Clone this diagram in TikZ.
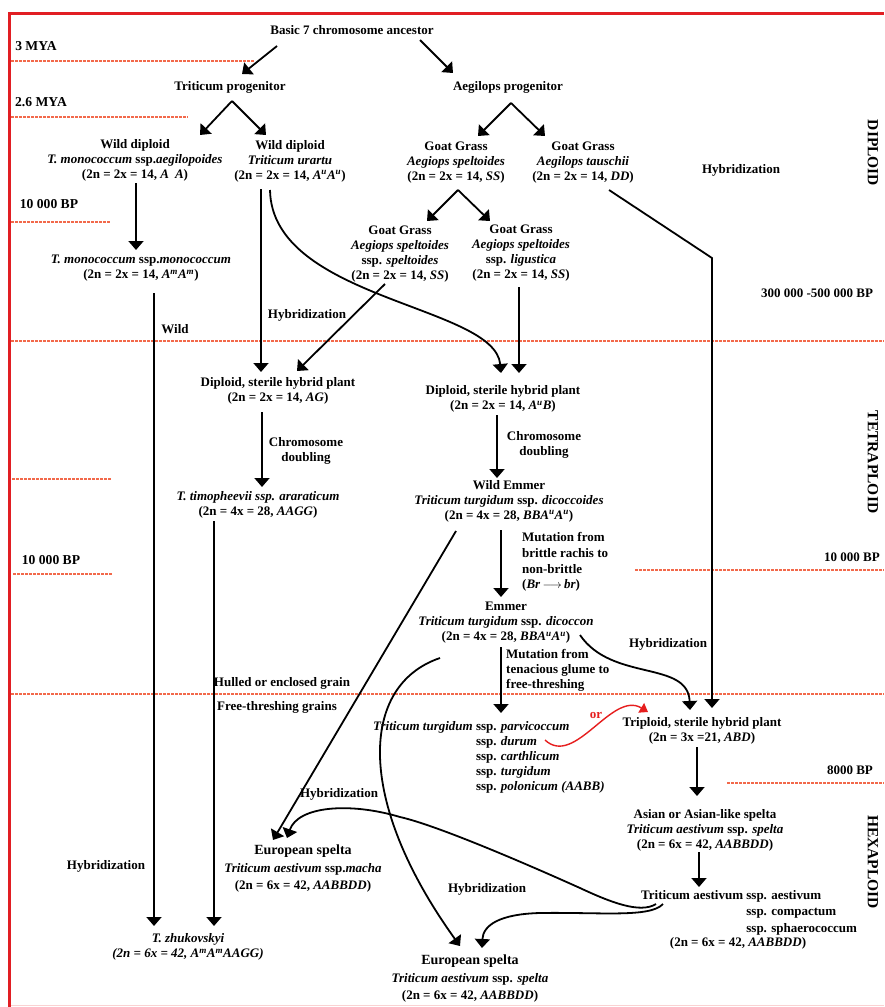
\documentclass[tikz,border=0pt]{standalone}
\usepackage{fontspec}
\setmainfont{Liberation Serif}
\usetikzlibrary{arrows.meta}
\definecolor{borderred}{RGB}{225,30,35}
\definecolor{dashred}{RGB}{242,105,75}
\definecolor{orred}{RGB}{230,30,30}
\definecolor{faintpink}{RGB}{250,210,210}
\newcommand\Asp[1]{\textit{A}\textsuperscript{\itshape #1}}
\begin{document}
\begin{tikzpicture}[x=1pt,y=-1pt,
  every node/.style={font=\fontsize{13}{15}\selectfont\bfseries, inner sep=0pt, align=center},
  arr/.style={line width=1.8pt, -{Triangle[width=15pt,length=9pt]}},
  redarr/.style={orred, line width=1.4pt, -{Triangle[width=11pt,length=8pt]}},
  tline/.style={dashred, line width=1.3pt, dash pattern=on 2.5pt off 1.5pt},
  ploidy/.style={rotate=-90, font=\fontsize{15.5}{16}\selectfont\bfseries},
  side/.style={font=\fontsize{13.6}{15}\selectfont\bfseries},
  big/.style={font=\fontsize{13}{17.5}\selectfont\bfseries}]
\useasboundingbox (0,0) rectangle (884,1007);
\fill[white] (0,0) rectangle (884,1007);
% border
\draw[faintpink, line width=0.8pt] (9,1005) -- (884,1005);
\draw[borderred, line width=3pt] (9,1007) -- (9,13) -- (884,13);
% time lines
\draw[tline] (11,61) -- (255,61);
\draw[tline] (11,117) -- (188,117);
\draw[tline] (11,222) -- (110,222);
\draw[tline] (11,341) -- (884,341);
\draw[tline] (12,479) -- (111,479);
\draw[tline] (13,574) -- (112,574);
\draw[tline] (635,570) -- (884,570);
\draw[tline] (11,694) -- (884,694);
\draw[tline] (727,783) -- (884,783);
% time labels
\node[side] (l3mya) at (36,46) {3 MYA};
\node[side] (l26mya) at (41,102) {2.6 MYA};
\node[side] (l10a) at (49,204) {10 000 BP};
\node[side] (l10b) at (51,560) {10 000 BP};
\node (l10c) at (852,557) {10 000 BP};
\node (l8000) at (850,770) {8000 BP};
\node (l300) at (817,293) {300 000 -500 000 BP};
\node[ploidy] (dip) at (873,153) {DIPLOID};
\node[ploidy] (tet) at (873,462) {TETRAPLOID};
\node[ploidy] (hex) at (873,862) {HEXAPLOID};
% taxa
\node (basic) at (352,30) {Basic 7 chromosome ancestor};
\node (tprog) at (230,87) {Triticum progenitor};
\node (aprog) at (508,87) {Aegilops progenitor};
\node (wdl) at (135,160) {Wild diploid\\\textit{T. monococcum} ssp.\textit{aegilopoides}\\(2n = 2x = 14, \textit{A\hspace{6pt}A})};
\node (wdr) at (290,161) {Wild diploid\\\textit{Triticum urartu}\\(2n = 2x = 14, \Asp{u}\Asp{u})};
\node (ggs) at (456,163) {Goat Grass\\\textit{Aegiops speltoides}\\(2n = 2x = 14, \textit{SS})};
\node (ggt) at (583,163) {Goat Grass\\\textit{Aegilops tauschii}\\(2n = 2x = 14, \textit{DD})};
\node (ggss) at (400,254) {Goat Grass\\\textit{Aegiops speltoides}\\ssp. \textit{speltoides}\\(2n = 2x = 14, \textit{SS})};
\node (ggl) at (521,253) {Goat Grass\\\textit{Aegiops speltoides}\\ssp. \textit{ligustica}\\(2n = 2x = 14, \textit{SS})};
\node (tmm) at (141,268) {\textit{T. monococcum} ssp.\textit{monococcum}\\(2n = 2x = 14, \Asp{m}\Asp{m})};
\node (dhl) at (278,391) {Diploid, sterile hybrid plant\\(2n = 2x = 14, \textit{AG})};
\node (dhr) at (503,399) {Diploid, sterile hybrid plant\\(2n = 2x = 14, \Asp{u}\textit{B})};
\node (ttim) at (258,505) {\textit{T. timopheevii ssp. araraticum}\\(2n = 4x = 28, \textit{AAGG})};
\node (wem) at (509,501) {Wild Emmer\\\textit{Triticum turgidum} ssp. \textit{dicoccoides}\\(2n = 4x = 28, \textit{BB}\Asp{u}\Asp{u})};
\node (emm) at (506,623) {Emmer\\\textit{Triticum turgidum} ssp. \textit{dicoccon}\\(2n = 4x = 28, \textit{BB}\Asp{u}\Asp{u})};
\node[anchor=base west] (parv) at (373,730) {\begin{tabular}[t]{@{}r@{ }l@{}}\textit{Triticum turgidum} & ssp. \textit{parvicoccum}\\ & ssp. \textit{durum}\\ & ssp. \textit{carthlicum}\\ & ssp. \textit{turgidum}\\ & ssp. \textit{polonicum (AABB)}\end{tabular}};
\node (trip) at (702,731) {Triploid, sterile hybrid plant\\(2n = 3x =21, \textit{ABD})};
\node (asian) at (705,830) {Asian or Asian-like spelta\\\textit{Triticum aestivum} ssp. \textit{spelta}\\(2n = 6x = 42, \textit{AABBDD})};
\node[anchor=base west] (aest) at (641,899) {\renewcommand{\arraystretch}{1.1}\begin{tabular}[t]{@{}l@{ }l@{}}Triticum aestivum & ssp. aestivum\\ & ssp. compactum\\ & ssp. sphaerococcum\end{tabular}};
\node (aest2) at (738,943) {(2n = 6x = 42, \textit{AABBDD})};
\node[big] (esm) at (303,869) {{\fontsize{14}{17.5}\selectfont European spelta}\\\textit{Triticum aestivum} ssp.\textit{macha}\\(2n = 6x = 42, \textit{AABBDD})};
\node[big] (esb) at (470,979) {{\fontsize{14}{17.5}\selectfont European spelta}\\\textit{Triticum aestivum} ssp. \textit{spelta}\\(2n = 6x = 42, \textit{AABBDD})};
\node (zhuk) at (188,947) {\textit{T. zhukovskyi}\\\textit{(2n = 6x = 42, A\textsuperscript{m}A\textsuperscript{m}AAGG)}};
% edge labels
\node (htop) at (741,170) {Hybridization};
\node (hmid) at (307,315) {Hybridization};
\node (wild) at (175,329) {Wild};
\node (cdl) at (306,451) {Chromosome\\doubling};
\node (cdr) at (544,445) {Chromosome\\doubling};
\node[anchor=west, align=left, font=\fontsize{13}{15.8}\selectfont\bfseries] (mut1) at (522,562) {Mutation from\\brittle rachis to\\non-brittle\\(\textit{Br}\,$\longrightarrow$\,\textit{br})};
\node[anchor=west, align=left] (mut2) at (506,670) {Mutation from\\tenacious glume to\\free-threshing};
\node (hemm) at (668,644) {Hybridization};
\node (hulled) at (282,683) {Hulled or enclosed grain};
\node (free) at (277,707) {Free-threshing grains};
\node (hesm) at (339,794) {Hybridization};
\node (hesb) at (487,889) {Hybridization};
\node (hleft) at (106,866) {Hybridization};
\node[text=orred] (or) at (596,715) {or};
% connectors
\draw[arr] ([shift={(-75,16)}]basic.center) -- ([shift={(12,-13)}]tprog.center);
\draw[arr] ([shift={(68,10)}]basic.center) -- ([shift={(-55,-14)}]aprog.center);
\draw[arr] ([shift={(2,14)}]tprog.center) -- ([shift={(65,-25)}]wdl.center);
\draw[arr] ([shift={(2,14)}]tprog.center) -- ([shift={(-24,-26)}]wdr.center);
\draw[arr] ([shift={(3,16)}]aprog.center) -- ([shift={(22,-27)}]ggs.center);
\draw[arr] ([shift={(3,16)}]aprog.center) -- ([shift={(-38,-27)}]ggt.center);
\draw[arr] ([shift={(2,27)}]ggs.center) -- ([shift={(27,-33)}]ggss.center);
\draw[arr] ([shift={(2,27)}]ggs.center) -- ([shift={(-31,-32)}]ggl.center);
\draw[arr] ([shift={(1,23)}]wdl.center) -- ([shift={(-5,-18)}]tmm.center);
\draw[arr] ([shift={(13,25)}]tmm.center) -- ([shift={(-34,-21)}]zhuk.center);
\draw[arr] ([shift={(-29,28)}]wdr.center) -- ([shift={(-17,-19)}]dhl.center);
\draw[arr] ([shift={(-20,29)}]wdr.center) .. controls (272,300) and (495,305) .. ([shift={(-2,-26)}]dhr.center);
\draw[arr] ([shift={(-15,30)}]ggss.center) -- ([shift={(19,-20)}]dhl.center);
\draw[arr] ([shift={(-2,34)}]ggl.center) -- ([shift={(16,-26)}]dhr.center);
\draw[arr] ([shift={(26,27)}]ggt.center) -- (712,258) -- ([shift={(10,-23)}]trip.center);
\draw[arr] ([shift={(-16,21)}]dhl.center) -- ([shift={(4,-18)}]ttim.center);
\draw[arr] ([shift={(-44,16)}]ttim.center) -- ([shift={(26,-21)}]zhuk.center);
\draw[arr] ([shift={(-6,16)}]dhr.center) -- ([shift={(-12,-23)}]wem.center);
\draw[arr] ([shift={(-8,29)}]wem.center) -- ([shift={(-5,-26)}]emm.center);
\draw[arr] ([shift={(-53,30)}]wem.center) -- ([shift={(-30,-29)}]esm.center);
\draw[arr] ([shift={(-5,24)}]emm.center) -- ([shift={(128,-17)}]parv.base west);
\draw[arr] ([shift={(74,12)}]emm.center) .. controls (612,682) and (688,660) .. ([shift={(-12,-21)}]trip.center);
\draw[arr] ([shift={(-66,35)}]emm.center) .. controls (360,685) and (355,800) .. ([shift={(-10,-33)}]esb.center);
\draw[arr] ([shift={(15,5)}]aest.base west) .. controls (640,914) and (610,902) .. (580,888) .. controls (540,870) and (440,826) .. (400,817) .. controls (350,802) and (298,806) .. ([shift={(-16,-31)}]esm.center);
\draw[arr] ([shift={(22,5)}]aest.base west) .. controls (650,918) and (600,912) .. (540,913) .. controls (500,914) and (483,925) .. ([shift={(12,-31)}]esb.center);
\draw[arr] ([shift={(-5,16)}]trip.center) -- ([shift={(-8,-34)}]asian.center);
\draw[arr] ([shift={(-6,22)}]asian.center) -- ([shift={(58,-12)}]aest.base west);
\draw[redarr] ([shift={(172,10)}]parv.base west) .. controls (575,768) and (612,690) .. ([shift={(-54,-19)}]trip.center);
\end{tikzpicture}
\end{document}
